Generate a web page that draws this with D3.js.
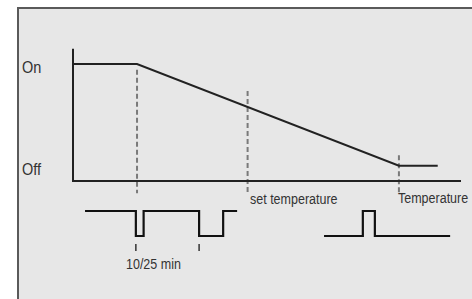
<!DOCTYPE html>
<html lang="en">
	<head>
		<meta charset="utf-8">
		<title>D3: thermostat on/off diagram</title>
		<script src="https://d3js.org/d3.v7.min.js"></script>
		<style type="text/css">
			body { margin: 0; background: #fff; }
			text { font-family: Arial, "Liberation Sans", sans-serif; fill: #333; }
		</style>
	</head>
	<body>
		<script type="text/javascript">

		// output level vs temperature (x in % of axis, y: 0 = axis, 10 = On)
		var outputX = [0, 16.5, 84, 94];
		var outputY = [10, 10, 1.3, 1.3];

		// dashed markers (x position, top level)
		var markerX = [16.5, 45, 84];
		var markerTop = [9.5, 7.7, 2.2];

		// pulse trains: x where the level changes, level 1 = high, 0 = low
		var pulseAX = [3.1, 16.2, 16.2, 18.2, 18.2, 32.5, 32.5, 38.7, 38.7, 42.3];
		var pulseAY = [1, 1, 0, 0, 1, 1, 0, 0, 1, 1];
		var pulseBX = [64.7, 74.7, 74.7, 77.8, 77.8, 97.2];
		var pulseBY = [0, 0, 1, 1, 0, 0];
		var tickX = [16.2, 32.5];

		var levelLabels = ["On", "Off"];
		var levelValues = [10, 1.3];

		var width = 472, height = 299;

		var svg = d3.select("body")
			.append("svg")
			.attr("width", width)
			.attr("height", height);

		// panel
		svg.append("rect")
			.attr("x", 18)
			.attr("y", 8)
			.attr("width", width)
			.attr("height", height)
			.attr("fill", "#e7e7e7")
			.attr("stroke", "#5a5a5a")
			.attr("stroke-width", 2);

		var x = d3.scaleLinear().domain([0, 100]).range([73, 461]);
		var y = d3.scaleLinear().domain([0, 10]).range([181, 64]);
		var yp = d3.scaleLinear().domain([0, 1]).range([236, 211]);

		// dashed markers
		svg.append("g")
			.selectAll("line")
			.data(markerX)
			.enter()
			.append("line")
			.attr("x1", function(d){ return x(d); })
			.attr("x2", function(d){ return x(d); })
			.attr("y1", function(d, i){ return y(markerTop[i]); })
			.attr("y2", y(-1.05))
			.attr("stroke", "#7a7a7a")
			.attr("stroke-width", 2)
			.attr("stroke-dasharray", "5,3");

		// axes
		svg.append("path")
			.attr("d", d3.line()([[x(0), y(11.3)], [x(0), y(0)], [x(100), y(0)]]))
			.attr("fill", "none")
			.attr("stroke", "#222")
			.attr("stroke-width", 2);

		// output line
		var line = d3.line()
			.x(function(d){ return x(d[0]); })
			.y(function(d){ return y(d[1]); });

		svg.append("path")
			.attr("d", line(d3.zip(outputX, outputY)))
			.attr("fill", "none")
			.attr("stroke", "#222")
			.attr("stroke-width", 2);

		// pulse trains
		var pline = d3.line()
			.x(function(d){ return x(d[0]); })
			.y(function(d){ return yp(d[1]); });

		[[pulseAX, pulseAY], [pulseBX, pulseBY]].forEach(function(p){
			svg.append("path")
				.attr("d", pline(d3.zip(p[0], p[1])))
				.attr("fill", "none")
				.attr("stroke", "#111")
				.attr("stroke-width", 2.2);
		});

		svg.append("g")
			.selectAll("line")
			.data(tickX)
			.enter()
			.append("line")
			.attr("x1", function(d){ return x(d); })
			.attr("x2", function(d){ return x(d); })
			.attr("y1", 244)
			.attr("y2", 251)
			.attr("stroke", "#333")
			.attr("stroke-width", 1.5);

		// labels (slightly stretched vertically like the scanned figure)
		function label(txt, px, py, size){
			svg.append("text")
				.attr("transform", "translate(" + px + "," + py + ") scale(1,1.15)")
				.attr("font-size", size)
				.text(txt);
		}

		levelLabels.forEach(function(d, i){
			label(d, 22, y(levelValues[i]) + 9, "14.5px");
		});
		label("set temperature", 250, 204, "12.5px");
		label("Temperature", 398, 203, "12.5px");
		label("10/25 min", 126, 269, "12.5px");

		</script>
	</body>
</html>
